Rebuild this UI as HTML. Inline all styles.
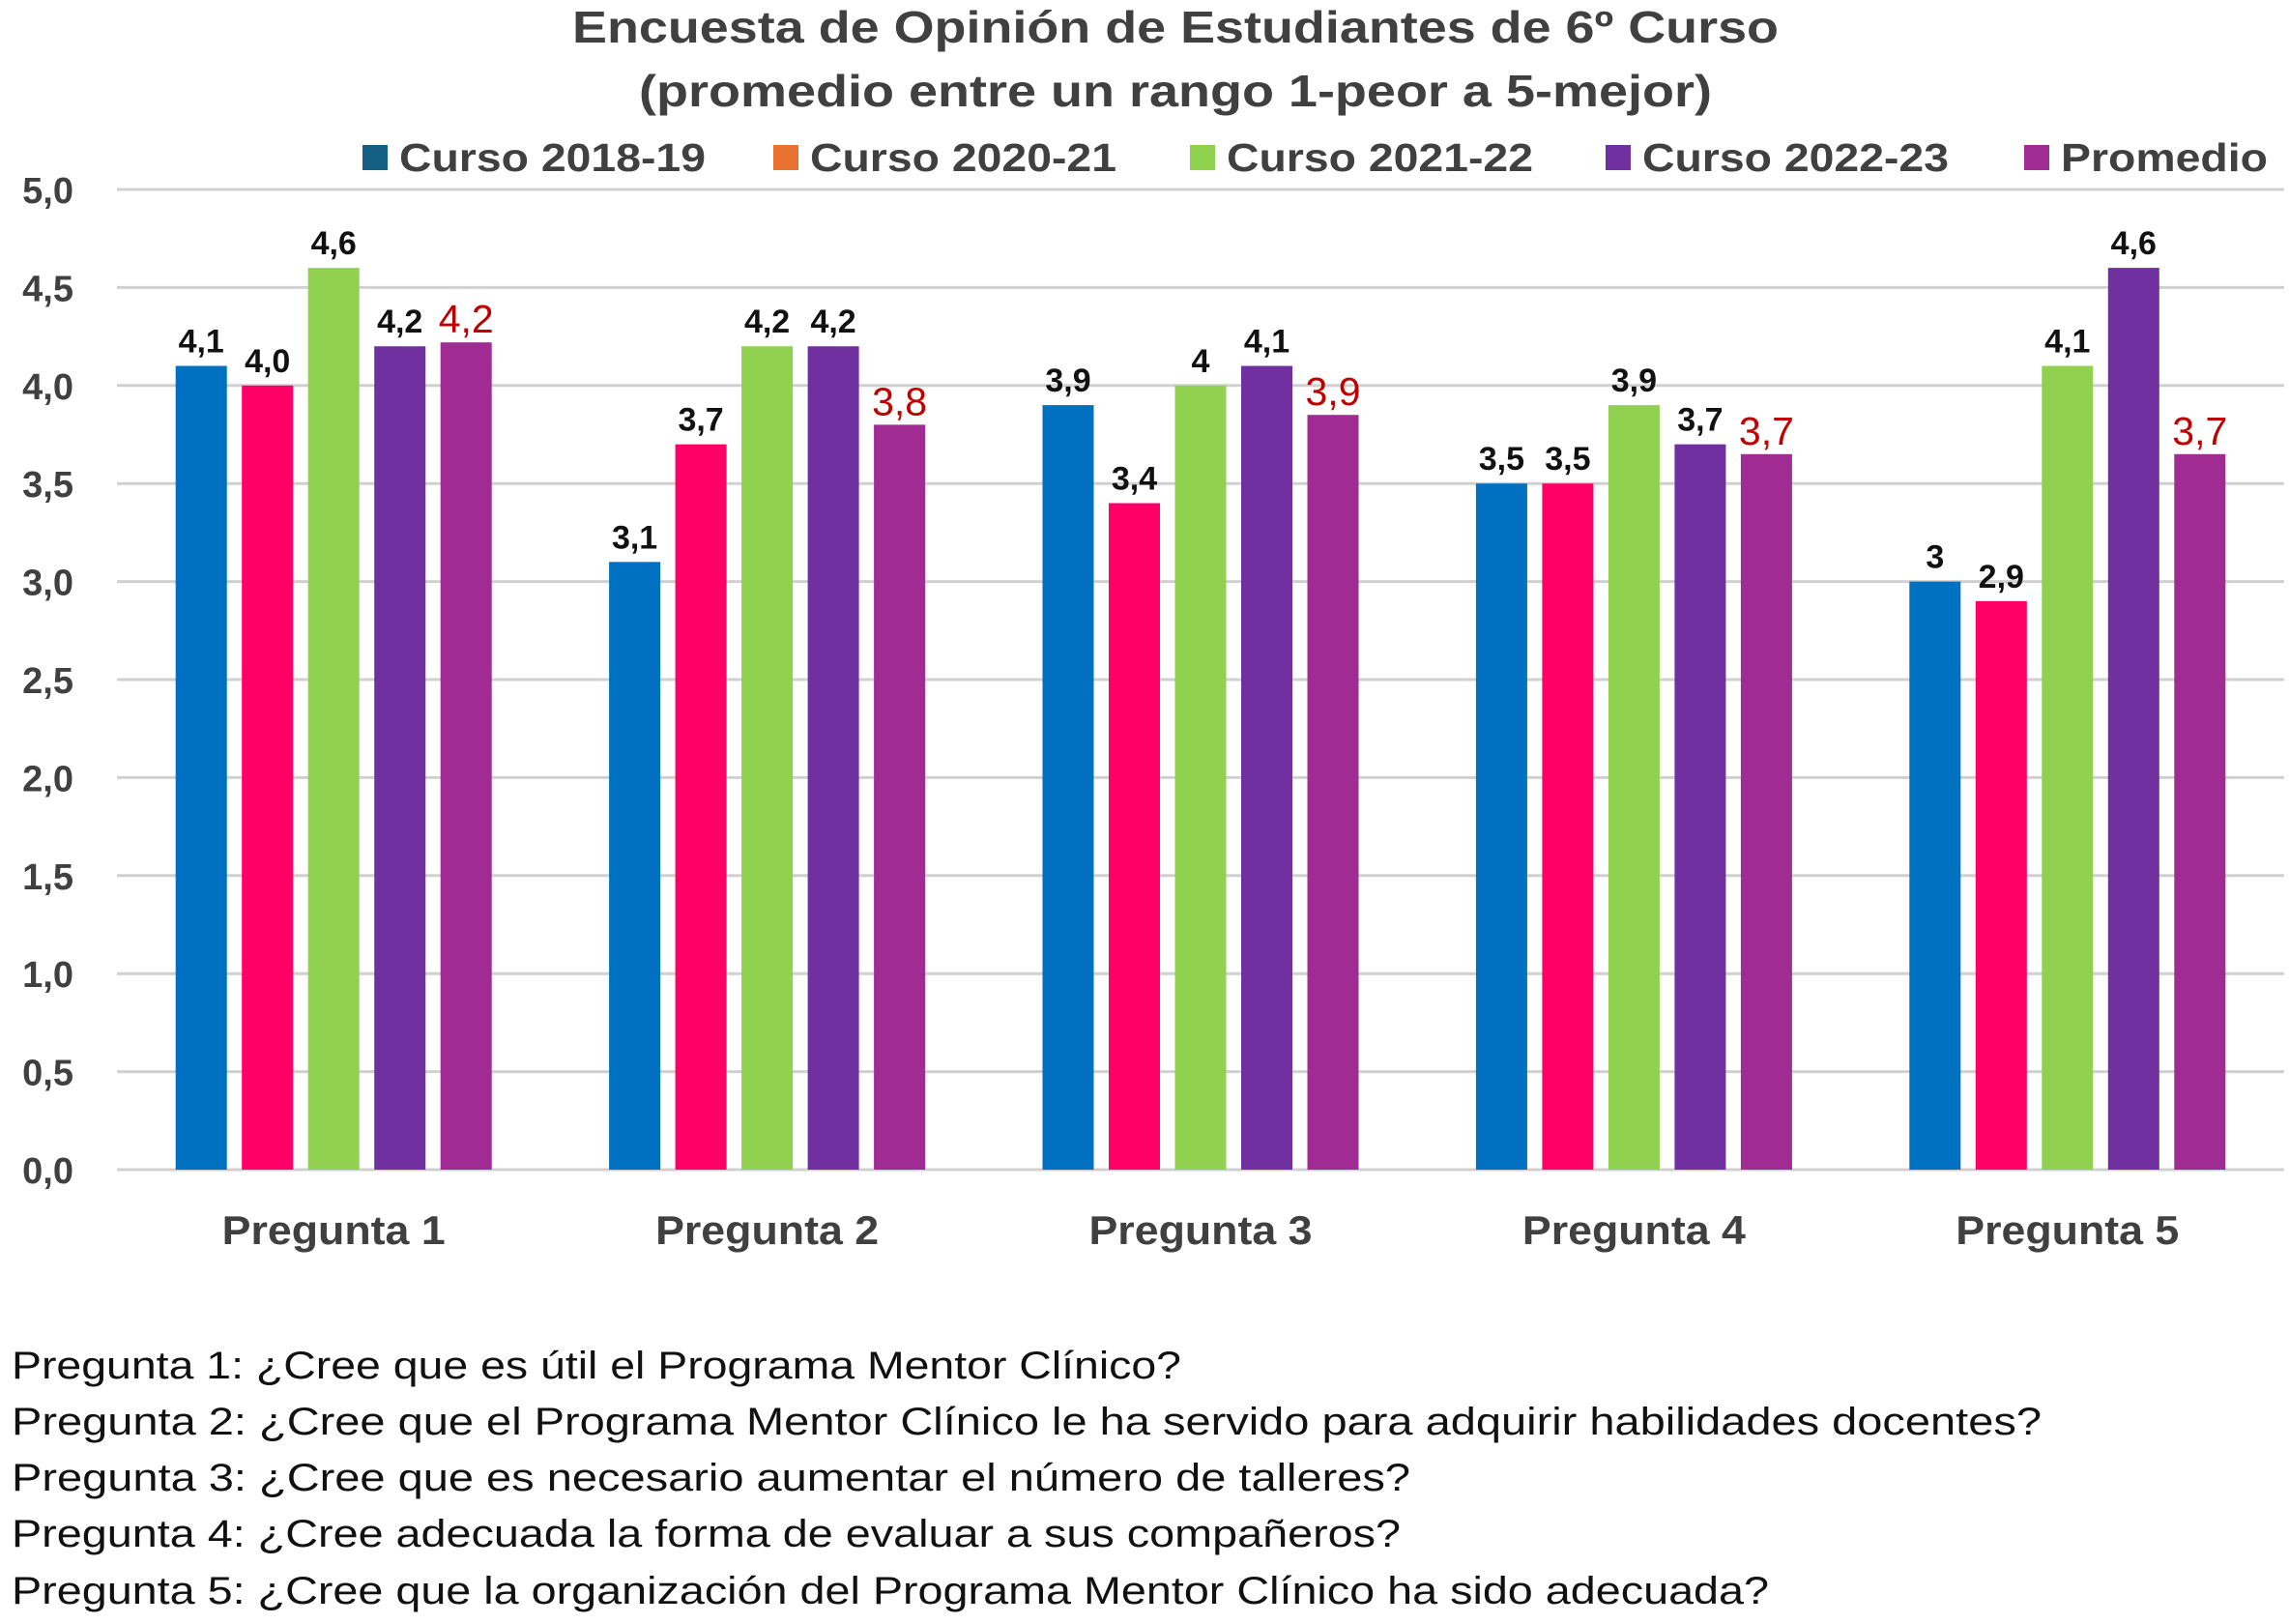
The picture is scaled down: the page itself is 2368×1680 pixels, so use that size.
<!DOCTYPE html>
<html><head><meta charset="utf-8"><style>
html,body{margin:0;padding:0;background:#fff}
svg{display:block;font-family:"Liberation Sans",sans-serif}
</style></head><body>
<svg id="chart" width="2368" height="1680" viewBox="0 0 2368 1680">
<text x="1216" y="44" text-anchor="middle" font-size="46" font-weight="bold" fill="#404040" textLength="1248" lengthAdjust="spacingAndGlyphs">Encuesta de Opinión de Estudiantes de 6º Curso</text>
<text x="1216" y="110" text-anchor="middle" font-size="46" font-weight="bold" fill="#404040" textLength="1110" lengthAdjust="spacingAndGlyphs">(promedio entre un rango 1-peor a 5-mejor)</text>
<g id="legend"></g>
<g id="grid"></g>
<g id="bars"></g>
<g id="xlabels"></g>
<g font-size="40" fill="#111">
<text x="12" y="1426" textLength="1210" lengthAdjust="spacingAndGlyphs">Pregunta 1: ¿Cree que es útil el Programa Mentor Clínico?</text>
<text x="12" y="1484" textLength="2100" lengthAdjust="spacingAndGlyphs">Pregunta 2: ¿Cree que el Programa Mentor Clínico le ha servido para adquirir habilidades docentes?</text>
<text x="12" y="1542" textLength="1447" lengthAdjust="spacingAndGlyphs">Pregunta 3: ¿Cree que es necesario aumentar el número de talleres?</text>
<text x="12" y="1600" textLength="1437" lengthAdjust="spacingAndGlyphs">Pregunta 4: ¿Cree adecuada la forma de evaluar a sus compañeros?</text>
<text x="12" y="1659" textLength="1818" lengthAdjust="spacingAndGlyphs">Pregunta 5: ¿Cree que la organización del Programa Mentor Clínico ha sido adecuada?</text>
</g>
</svg>
<script>
const categories = ["Pregunta 1","Pregunta 2","Pregunta 3","Pregunta 4","Pregunta 5"];
const seriesNames = ["Curso 2018-19","Curso 2020-21","Curso 2021-22","Curso 2022-23","Promedio"];
const s2018 = [4.1,3.1,3.9,3.5,3.0];
const s2020 = [4.0,3.7,3.4,3.5,2.9];
const s2021 = [4.6,4.2,4.0,3.9,4.1];
const s2022 = [4.2,4.2,4.1,3.7,4.6];
const sProm = [4.22,3.8,3.85,3.65,3.65];
const lab2018 = ["4,1","3,1","3,9","3,5","3"];
const lab2020 = ["4,0","3,7","3,4","3,5","2,9"];
const lab2021 = ["4,6","4,2","4","3,9","4,1"];
const lab2022 = ["4,2","4,2","4,1","3,7","4,6"];
const labProm = ["4,2","3,8","3,9","3,7","3,7"];
const yTicks = [0,0.5,1,1.5,2,2.5,3,3.5,4,4.5,5];
const yTickLabels = ["0,0","0,5","1,0","1,5","2,0","2,5","3,0","3,5","4,0","4,5","5,0"];

const NS="http://www.w3.org/2000/svg";
const y0=1210, y5=196, left=121, right=2363;
const yScale=v=>y0-(v/5)*(y0-y5);
const groupW=(right-left)/categories.length;
const xCenter=i=>left+groupW*(i+0.5);
const barW=53, barStep=68.5;
const barColors=["#0070c0","#ff0066","#92d050","#7030a0","#a02b93"];
const legendColors=["#156082","#e97132","#8ed14f","#7030a0","#a02b93"];
const allSeries=[s2018,s2020,s2021,s2022,sProm];
const allLabels=[lab2018,lab2020,lab2021,lab2022,labProm];
function mk(tag,attrs,parent){const e=document.createElementNS(NS,tag);for(const k in attrs)e.setAttribute(k,attrs[k]);parent.appendChild(e);return e;}

const grid=document.getElementById('grid');
yTicks.forEach((t,i)=>{
  const l=mk('line',{x1:left,x2:right,y1:yScale(t),y2:yScale(t),stroke:'#d0d0d0','stroke-width':3},grid);
  
  
  const tx=mk('text',{x:76,y:yScale(t)+14,'text-anchor':'end','font-size':38,'font-weight':'bold',fill:'#404040'},grid);
  tx.textContent=yTickLabels[i];
  
  
});

const bars=document.getElementById('bars');
allSeries.forEach((ser,s)=>{
  ser.forEach((v,i)=>{
    const cx=xCenter(i)+(s-2)*barStep;
    const r=mk('rect',{x:cx-barW/2,y:yScale(v),width:barW,height:y0-yScale(v),fill:barColors[s]},bars);
    
    
    const isP=s===4;
    const t=mk('text',{x:cx,y:yScale(v)-(isP?10:14),'text-anchor':'middle','font-size':isP?41:34,'font-weight':isP?'normal':'bold',fill:isP?'#c00000':'#111'},bars);
    t.textContent=allLabels[s][i];
    
    
  });
});

const xl=document.getElementById('xlabels');
categories.forEach((c,i)=>{
  const t=mk('text',{x:xCenter(i),y:1287,'text-anchor':'middle','font-size':42,'font-weight':'bold',fill:'#404040',textLength:231,lengthAdjust:'spacingAndGlyphs'},xl);
  t.textContent=c;
  
  
});

const lg=document.getElementById('legend');
const legX=[375,800,1231,1661,2094];
const legW=[317,317,317,317,214];
seriesNames.forEach((n,i)=>{
  const r=mk('rect',{x:legX[i],y:150,width:26,height:26,fill:legendColors[i]},lg);
  
  
  const t=mk('text',{x:legX[i]+38,y:177,'font-size':41,'font-weight':'bold',fill:'#404040',textLength:legW[i],lengthAdjust:'spacingAndGlyphs'},lg);
  t.textContent=n;
  
  
});
</script>
</body></html>
